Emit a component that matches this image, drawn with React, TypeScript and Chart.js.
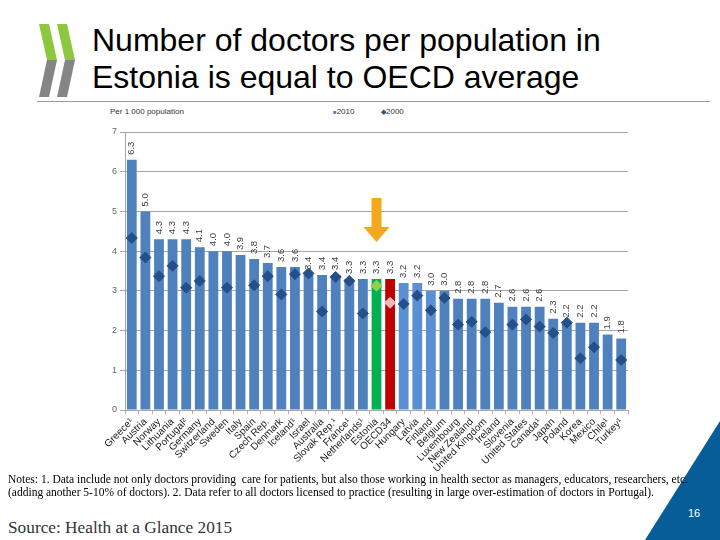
import React, { useEffect, useRef } from "react";
import { Chart, registerables } from "chart.js";

Chart.register(...registerables);

const countries = [
  "Greece¹", "Austria", "Norway", "Lithuania", "Portugal²", "Germany", "Switzerland", "Sweden",
  "Italy", "Spain", "Czech Rep.", "Denmark", "Iceland¹", "Israel", "Australia", "Slovak Rep.¹",
  "France¹", "Netherlands¹", "Estonia", "OECD34", "Hungary", "Latvia", "Finland", "Belgium",
  "Luxembourg", "New Zealand", "United Kingdom", "Ireland", "Slovenia", "United States", "Canada¹",
  "Japan", "Poland", "Korea", "Mexico", "Chile¹", "Turkey¹",
];

const values2013 = [
  6.3, 5.0, 4.3, 4.3, 4.3, 4.1, 4.0, 4.0, 3.9, 3.8, 3.7, 3.6, 3.6, 3.4, 3.4, 3.4,
  3.3, 3.3, 3.3, 3.3, 3.2, 3.2, 3.0, 3.0, 2.8, 2.8, 2.8, 2.7, 2.6, 2.6, 2.6,
  2.3, 2.2, 2.2, 2.2, 1.9, 1.8,
];

const values2000: (number | null)[] = [
  4.33, 3.84, 3.37, 3.63, 3.08, 3.25, null, 3.08, null, 3.14, 3.37, 2.91, 3.42, 3.44, 2.48, 3.35,
  3.25, 2.43, 3.13, 2.70, 2.67, 2.88, 2.51, 2.82, 2.15, 2.22, 1.96, null, 2.15, 2.28, 2.10,
  1.94, 2.20, 1.30, 1.58, null, 1.26,
];

const yTicks = [0, 1, 2, 3, 4, 5, 6, 7];

const highlightIndex = 18; // Estonia
const averageIndex = 19; // OECD34
const lighterBars = [20, 21, 22];

const BAR = "#4f81bd";
const BAR_LIGHT = "#5a8fd3";
const DIAMOND = "#244f8a";

const FONT = "'Liberation Sans', Arial, sans-serif";
const SERIF = "'Liberation Serif', 'Times New Roman', serif";

const labelPlugin = {
  id: "valueLabelsAndArrow",
  afterDatasetsDraw(chart: any) {
    const ctx = chart.ctx;
    const meta = chart.getDatasetMeta(0);
    ctx.save();
    ctx.font = `9.5px ${FONT}`;
    ctx.fillStyle = "#404040";
    meta.data.forEach((bar: any, i: number) => {
      ctx.save();
      ctx.translate(bar.x, bar.y - 5);
      ctx.rotate(-Math.PI / 2);
      ctx.textAlign = "left";
      ctx.textBaseline = "middle";
      ctx.fillText(values2013[i].toFixed(1), 0, 0);
      ctx.restore();
    });
    // orange arrow above Estonia
    const b = meta.data[highlightIndex];
    const cx = b.x;
    const tip = b.y - 37;
    const top = tip - 44;
    const headH = 15;
    ctx.fillStyle = "#f6a81d";
    ctx.beginPath();
    ctx.moveTo(cx - 5, top);
    ctx.lineTo(cx + 5, top);
    ctx.lineTo(cx + 5, tip - headH);
    ctx.lineTo(cx + 13, tip - headH);
    ctx.lineTo(cx, tip);
    ctx.lineTo(cx - 13, tip - headH);
    ctx.lineTo(cx - 5, tip - headH);
    ctx.closePath();
    ctx.fill();
    ctx.restore();
  },
};

function ChartBox() {
  const ref = useRef<HTMLCanvasElement>(null);
  useEffect(() => {
    if (!ref.current) return;
    const barColors = values2013.map((_, i) =>
      i === highlightIndex ? "#00b050" : i === averageIndex ? "#c00000" : lighterBars.includes(i) ? BAR_LIGHT : BAR
    );
    const pointColors = values2000.map((_, i) =>
      i === highlightIndex ? "#92d050" : i === averageIndex ? "#f4b8b8" : DIAMOND
    );
    const chart = new Chart(ref.current, {
      type: "bar",
      data: {
        labels: countries,
        datasets: [
          {
            type: "bar",
            label: "2010",
            data: values2013,
            backgroundColor: barColors,
            categoryPercentage: 1,
            barPercentage: 0.72,
            order: 2,
          },
          {
            type: "line",
            label: "2000",
            data: values2000 as any,
            showLine: false,
            pointStyle: "rectRot",
            pointRadius: 5.5,
            pointBackgroundColor: pointColors,
            pointBorderColor: pointColors,
            order: 1,
          } as any,
        ],
      },
      options: {
        animation: false,
        responsive: false,
        maintainAspectRatio: false,
        layout: { padding: { top: 32, right: 12, left: 0, bottom: 0 } },
        plugins: { legend: { display: false }, tooltip: { enabled: false } },
        scales: {
          x: {
            offset: true,
            grid: {
              display: true,
              drawOnChartArea: false,
              offset: true,
              tickLength: 4,
              color: "#d9a0a0",
            },
            border: { color: "#a6a6a6" },
            ticks: {
              maxRotation: 45,
              minRotation: 45,
              autoSkip: false,
              font: { size: 10, family: FONT },
              color: "#222",
              padding: 2,
            },
            afterFit: (s: any) => {
              s.height = 70;
            },
          },
          y: {
            min: 0,
            max: 7,
            afterBuildTicks: (s: any) => {
              s.ticks = yTicks.map((v) => ({ value: v }));
            },
            grid: { color: "#a6a6a6", tickLength: 5 },
            border: { color: "#a6a6a6" },
            ticks: {
              font: { size: 9, family: FONT },
              color: "#666",
              padding: 3,
            },
            afterFit: (s: any) => {
              s.width = 25;
            },
          },
        },
      },
      plugins: [labelPlugin],
    });
    return () => chart.destroy();
  }, []);
  return <canvas ref={ref} width={540} height={380} style={{ position: "absolute", left: 100, top: 100, width: 540, height: 380 }} />;
}

export default function App() {
  const abs = (s: React.CSSProperties): React.CSSProperties => ({ position: "absolute", margin: 0, whiteSpace: "nowrap", ...s });
  return (
    <div style={{ position: "absolute", left: 0, top: 0, width: 720, height: 540, overflow: "hidden", background: "#fff" }}>
      <svg width={720} height={540} style={{ position: "absolute", left: 0, top: 0 }}>
        {/* logo chevrons */}
        <polygon points="39,24 49,24 57,60 47,60" fill="#8dc63f" />
        <polygon points="47,60 57,60 49,97 39,97" fill="#858585" />
        <polygon points="57,24 67,24 75,60 65,60" fill="#8dc63f" />
        <polygon points="65,60 75,60 67,97 57,97" fill="#858585" />
        {/* title underline */}
        <line x1={37} y1={101.5} x2={710} y2={101.5} stroke="#9a9a9a" strokeWidth={1} />
        {/* blue triangle */}
        <polygon points="720,421 720,540 645,540" fill="#075d97" />
      </svg>
      <div style={abs({ left: 92, top: 22, fontFamily: FONT, fontSize: 32, lineHeight: "37px", color: "#000" })}>
        Number of doctors per population in
        <br />
        Estonia is equal to OECD average
      </div>
      <div style={abs({ left: 110, top: 107, fontFamily: FONT, fontSize: 8, color: "#333" })}>Per 1 000 population</div>
      <div style={abs({ left: 333, top: 107, fontFamily: FONT, fontSize: 8, color: "#333" })}>
        <span style={{ color: BAR, fontSize: 6 }}>■</span>2010
      </div>
      <div style={abs({ left: 381, top: 107, fontFamily: FONT, fontSize: 8, color: "#333" })}>
        <span style={{ color: DIAMOND, fontSize: 7 }}>◆</span>2000
      </div>
      <ChartBox />
      <div style={abs({ left: 8, top: 473, fontFamily: SERIF, fontSize: 11.5, lineHeight: "13px", color: "#000" })}>
        Notes: 1. Data include not only doctors providing&nbsp; care for patients, but also those working in health sector as managers, educators, researchers, etc.
        <br />
        (adding another 5-10% of doctors). 2. Data refer to all doctors licensed to practice (resulting in large over-estimation of doctors in Portugal).
      </div>
      <div style={abs({ left: 8, top: 518, fontFamily: SERIF, fontSize: 17.3, color: "#333" })}>
        Source: Health at a Glance 2015
      </div>
      <div style={abs({ left: 688, top: 507, fontFamily: FONT, fontSize: 11, color: "#fff" })}>16</div>
    </div>
  );
}
